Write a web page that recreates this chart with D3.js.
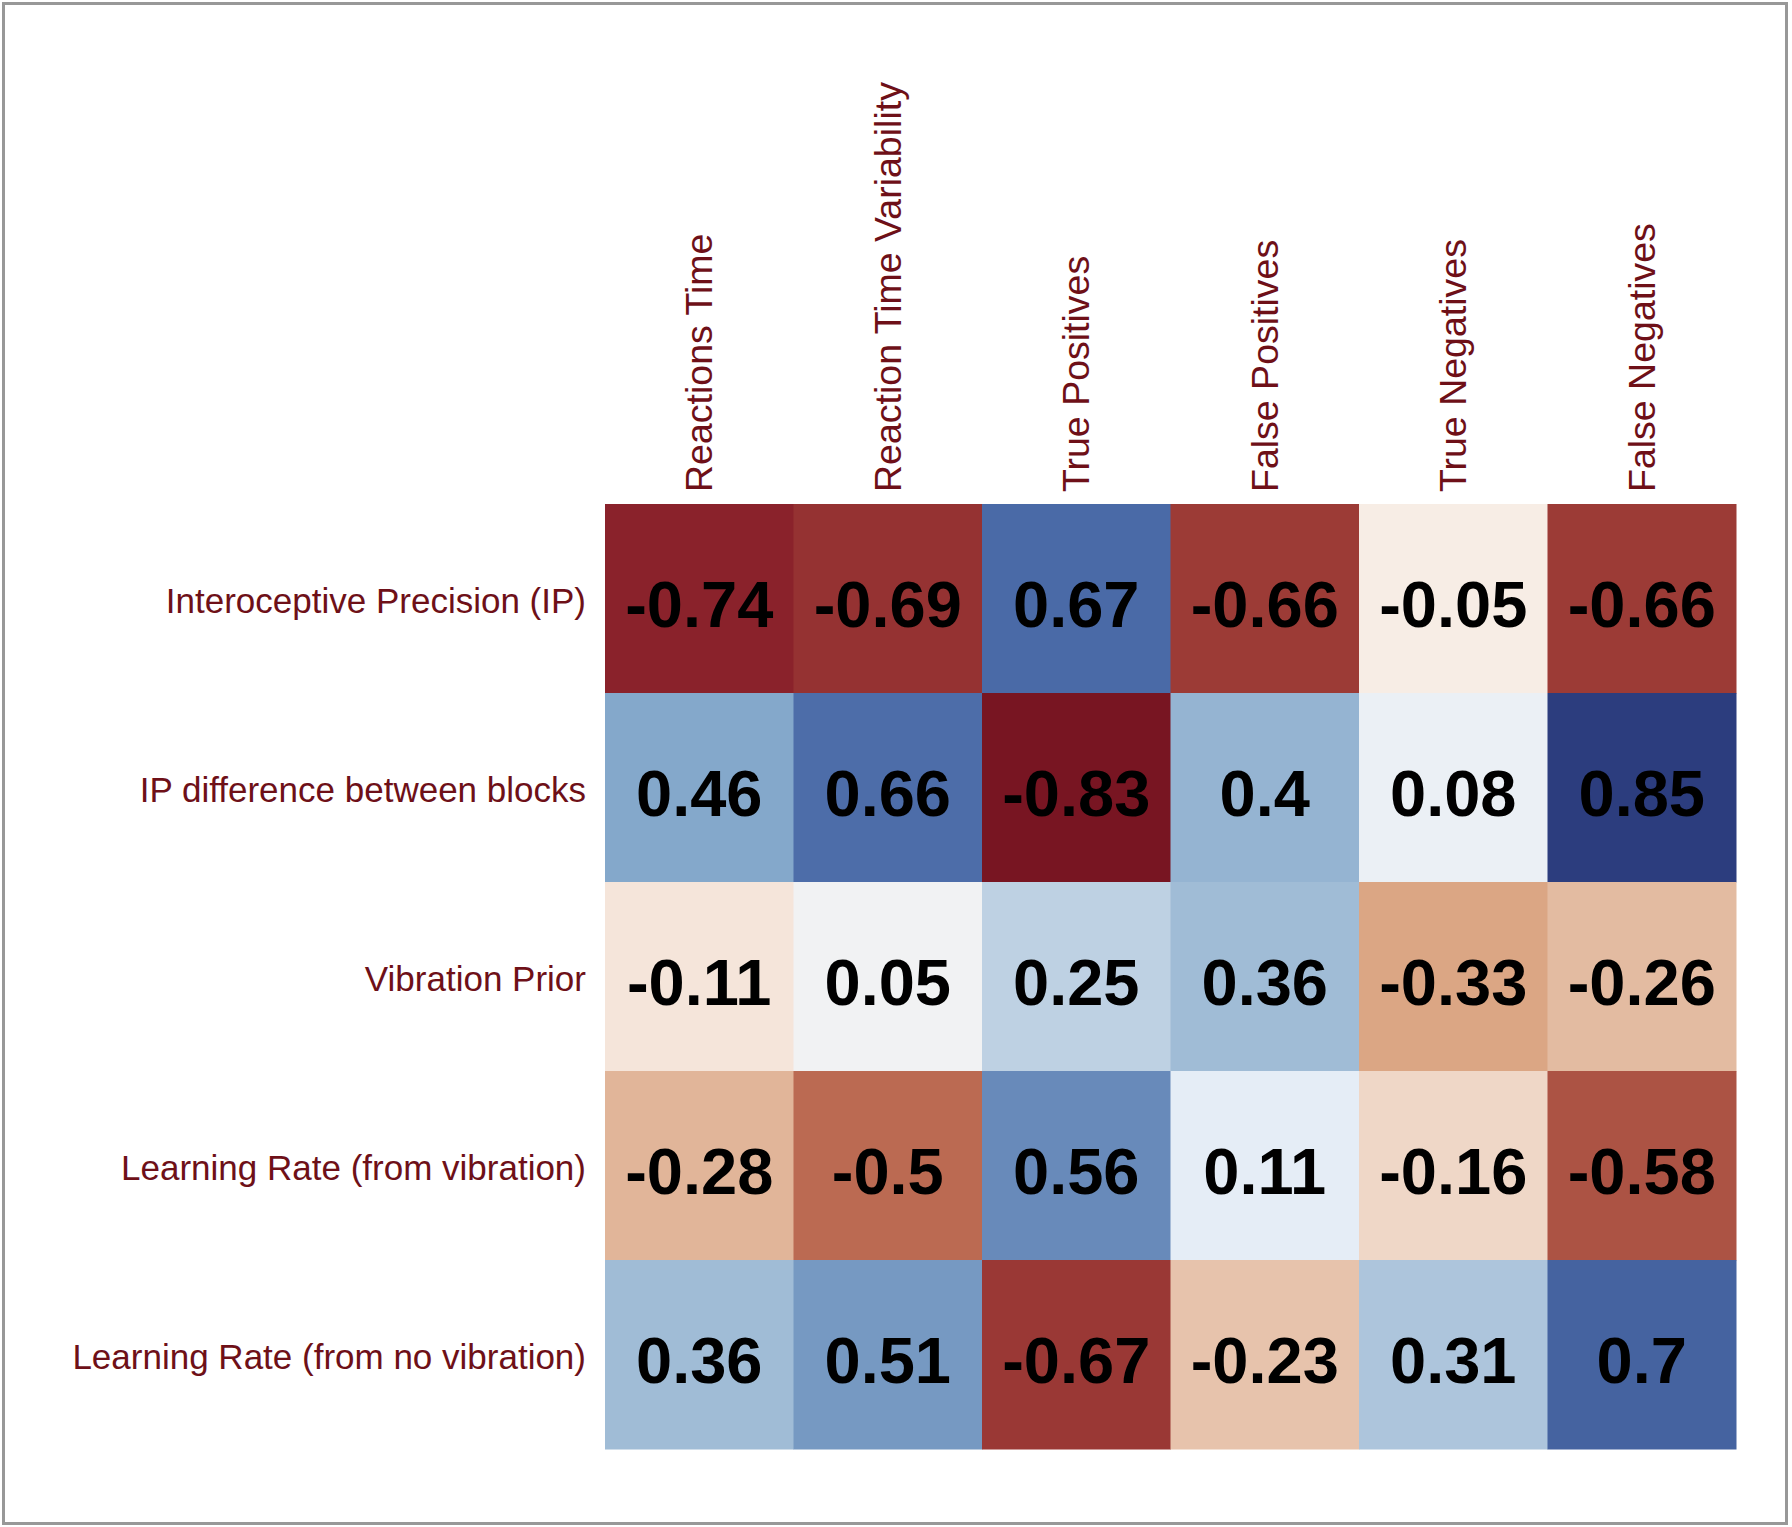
<!DOCTYPE html>
<html><head><meta charset="utf-8">
<script src="https://cdn.jsdelivr.net/npm/d3@7"></script>
<style>html,body{margin:0;padding:0;background:#fff;}</style>
</head><body>
<script>
const rows = ["Interoceptive Precision (IP)", "IP difference between blocks", "Vibration Prior", "Learning Rate (from vibration)", "Learning Rate (from no vibration)"];
const cols = ["Reactions Time", "Reaction Time Variability", "True Positives", "False Positives", "True Negatives", "False Negatives"];
const valuesIP = [-0.74, -0.69, 0.67, -0.66, -0.05, -0.66];
const valuesIPDiff = [0.46, 0.66, -0.83, 0.4, 0.08, 0.85];
const valuesVibPrior = [-0.11, 0.05, 0.25, 0.36, -0.33, -0.26];
const valuesLRVib = [-0.28, -0.5, 0.56, 0.11, -0.16, -0.58];
const valuesLRNoVib = [0.36, 0.51, -0.67, -0.23, 0.31, 0.7];
const matrix = [valuesIP, valuesIPDiff, valuesVibPrior, valuesLRVib, valuesLRNoVib];

const W = 1792, H = 1527;
const svg = d3.select("body").append("svg").attr("width", W).attr("height", H);
svg.append("rect").attr("x", 3.5).attr("y", 3.5).attr("width", 1783).attr("height", 1520)
  .attr("fill", "#fff").attr("stroke", "#989898").attr("stroke-width", 3);

const gx0 = 605, gx1 = 1736, gy0 = 504, gy1 = 1449;
const x = d3.scaleBand().domain(cols).range([gx0, gx1]).padding(0);
const y = d3.scaleBand().domain(rows).range([gy0, gy1]).padding(0);

const color = d3.scaleLinear()
  .domain([-0.85, -0.74, -0.66, -0.5, -0.33, -0.28, -0.11, 0, 0.1, 0.25, 0.46, 0.67, 0.85])
  .range(["#741220", "#8a222b", "#9c3b36", "#bb6a52", "#dba684", "#e1b599", "#f5e5da", "#f9f4ee", "#e8eff7", "#bed1e3", "#84a8cb", "#4a6aa7", "#2c3d7e"])
  .clamp(true);

const cells = [];
matrix.forEach((r, i) => r.forEach((v, j) => cells.push({row: rows[i], col: cols[j], v})));

const g = svg.append("g");
g.selectAll("rect.cell").data(cells).join("rect").attr("class", "cell")
  .attr("x", d => x(d.col)).attr("y", d => y(d.row))
  .attr("width", x.bandwidth() + 0.5).attr("height", y.bandwidth() + 0.5)
  .attr("fill", d => color(d.v));

g.selectAll("text.val").data(cells).join("text").attr("class", "val")
  .attr("x", d => x(d.col) + x.bandwidth() / 2)
  .attr("y", d => y(d.row) + y.bandwidth() / 2 + 28)
  .attr("text-anchor", "middle")
  .attr("font-family", "Liberation Sans, Arial, sans-serif")
  .attr("font-weight", "bold").attr("font-size", 65).attr("fill", "#000")
  .text(d => String(d.v));

const labColor = "#6e1018";
// Row labels via axis
const yAxis = svg.append("g").attr("transform", `translate(${gx0},0)`)
  .call(d3.axisLeft(y).tickSize(0).tickPadding(19));
yAxis.select(".domain").remove();
yAxis.selectAll("text").attr("font-family", "Liberation Sans, Arial, sans-serif")
  .attr("font-size", 35).attr("fill", labColor).attr("dy", "0.41em");

// Column labels via axis
const xAxis = svg.append("g").attr("transform", `translate(0,${gy0})`)
  .call(d3.axisTop(x).tickSize(0).tickPadding(0));
xAxis.select(".domain").remove();
xAxis.selectAll("text").attr("font-family", "Liberation Sans, Arial, sans-serif")
  .attr("font-size", 37.5).attr("fill", labColor)
  .attr("text-anchor", "start")
  .attr("transform", "rotate(-90)")
  .attr("x", 12).attr("y", 0).attr("dy", "0.35em");
</script>
</body></html>
